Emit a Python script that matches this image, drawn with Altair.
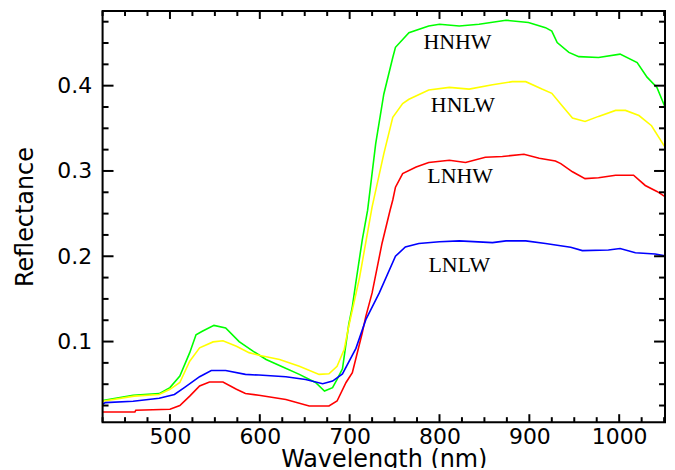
import altair as alt
import pandas as pd

# ---- data ----
hnhw_wl = [425, 459, 488, 500, 511, 522, 529, 536, 549, 562, 577, 592, 607, 625, 644, 662, 672, 681, 686, 692,
           699, 703, 707, 714, 720, 729, 738, 748, 751, 766, 788, 800, 822, 844, 874, 899, 918, 925, 931, 944,
           955, 977, 1001, 1020, 1031, 1042, 1051]
hnhw_r = [0.031, 0.037, 0.039, 0.046, 0.0595, 0.087, 0.108, 0.112, 0.119, 0.116, 0.100, 0.089, 0.079, 0.0705,
          0.0615, 0.052, 0.042, 0.046, 0.0556, 0.068, 0.120, 0.141, 0.170, 0.219, 0.254, 0.332, 0.390, 0.433,
          0.445, 0.462, 0.470, 0.472, 0.470, 0.472, 0.4767, 0.474, 0.468, 0.464, 0.4505, 0.439, 0.434, 0.433,
          0.437, 0.427, 0.410, 0.398, 0.375]

hnlw_wl = [425, 460, 488, 500, 511, 522, 533, 548, 559, 574, 588, 599, 622, 644, 666, 677, 686, 694, 699, 711,
           725, 738, 748, 759, 766, 788, 811, 833, 859, 881, 896, 914, 925, 936, 948, 962, 977, 996, 1007, 1022,
           1036, 1051]
hnlw_r = [0.030, 0.036, 0.038, 0.044, 0.052, 0.077, 0.0926, 0.0996, 0.101, 0.0945, 0.087, 0.084, 0.079, 0.071,
          0.0615, 0.0623, 0.071, 0.091, 0.118, 0.175, 0.258, 0.320, 0.363, 0.379, 0.384, 0.395, 0.398, 0.396,
          0.401, 0.4047, 0.4047, 0.396, 0.391, 0.377, 0.362, 0.358, 0.364, 0.371, 0.371, 0.365, 0.353, 0.328]

lnhw_wl = [425, 461, 462, 500, 511, 522, 533, 544, 559, 574, 584, 599, 629, 655, 677, 686, 696, 703, 714, 718,
           725, 736, 745, 748, 751, 759, 774, 788, 811, 829, 851, 870, 894, 911, 929, 935, 948, 962, 977, 996,
           1016, 1029, 1042, 1051]
lnhw_r = [0.0175, 0.0175, 0.0195, 0.0206, 0.025, 0.036, 0.048, 0.0525, 0.0525, 0.044, 0.039, 0.037, 0.032,
          0.0245, 0.0245, 0.0303, 0.052, 0.0634, 0.110, 0.1295, 0.157, 0.215, 0.254, 0.266, 0.281, 0.297,
          0.3046, 0.310, 0.3125, 0.310, 0.316, 0.317, 0.3195, 0.315, 0.3116, 0.3086, 0.299, 0.291, 0.292,
          0.295, 0.295, 0.283, 0.276, 0.270]

lnlw_wl = [425, 428, 459, 488, 505, 516, 533, 546, 562, 584, 599, 629, 651, 670, 681, 692, 707, 718, 733, 751,
           762, 777, 800, 822, 859, 874, 896, 918, 931, 946, 959, 988, 1001, 1018, 1040, 1051]
lnlw_r = [0.0265, 0.0284, 0.030, 0.0335, 0.038, 0.046, 0.0588, 0.066, 0.066, 0.0615, 0.0607, 0.0588, 0.0556,
          0.0506, 0.0537, 0.062, 0.092, 0.1257, 0.157, 0.200, 0.211, 0.215, 0.217, 0.218, 0.216, 0.218, 0.218,
          0.215, 0.213, 0.2105, 0.2066, 0.2074, 0.209, 0.2042, 0.2027, 0.2007]

series_names = ["HNHW", "HNLW", "LNHW", "LNLW"]
series_colors = ["#00ff00", "#ffff00", "#ff0000", "#0000ff"]

label_text = ["HNHW", "HNLW", "LNHW", "LNLW"]
label_wl = [820, 826, 823, 822]
label_r = [0.443, 0.369, 0.2856, 0.1817]

x_major = [500, 600, 700, 800, 900, 1000]
x_minor = [425, 450, 475, 525, 550, 575, 625, 650, 675, 725, 750, 775, 825, 850, 875, 925, 950, 975, 1025, 1050]
y_major = [0.1, 0.2, 0.3, 0.4]
y_minor = [0.025, 0.05, 0.075, 0.125, 0.15, 0.175, 0.225, 0.25, 0.275, 0.325, 0.35, 0.375, 0.425, 0.45, 0.475]

X_DOMAIN = [425, 1051]
Y_DOMAIN = [0.0055, 0.4875]
W, H = 565, 413

rows = []
for name, wl, rr in [("HNHW", hnhw_wl, hnhw_r), ("HNLW", hnlw_wl, hnlw_r),
                     ("LNHW", lnhw_wl, lnhw_r), ("LNLW", lnlw_wl, lnlw_r)]:
    for a, b in zip(wl, rr):
        rows.append({"series": name, "wl": a, "r": b})
df = pd.DataFrame(rows)

xs = alt.Scale(domain=X_DOMAIN, nice=False, zero=False)
ys = alt.Scale(domain=Y_DOMAIN, nice=False, zero=False)

FONT = "DejaVu Sans"

x_axis = alt.Axis(values=x_major, format="d", ticks=False, tickSize=0, domain=False, grid=False,
                  labelFont=FONT, labelFontSize=22, labelColor="#000", labelPadding=4,
                  titleFont=FONT, titleFontSize=24, titleFontWeight="normal", titleColor="#000",
                  titleBaseline="alphabetic", titleX=282.5, titleY=45, titleAnchor="middle")
y_axis = alt.Axis(values=y_major, format=".1f", ticks=False, tickSize=0, domain=False, grid=False,
                  labelFont=FONT, labelFontSize=22, labelColor="#000", labelPadding=11,
                  titleFont=FONT, titleFontSize=24, titleFontWeight="normal", titleColor="#000",
                  titleAngle=270, titleBaseline="middle", titleAlign="center",
                  titleX=-77, titleY=206.5)


def X(field):
    return alt.X(field, scale=xs, title="Wavelength (nm)", axis=x_axis)


def Y(field):
    return alt.Y(field, scale=ys, title="Reflectance", axis=y_axis)


lines = alt.Chart(df).mark_line(strokeWidth=1.6, clip=True).encode(
    x=X("wl:Q"),
    y=Y("r:Q"),
    color=alt.Color("series:N", scale=alt.Scale(domain=series_names, range=series_colors), legend=None),
)

lab_df = pd.DataFrame({"t": label_text, "wl": label_wl, "r": label_r})
labels = alt.Chart(lab_df).mark_text(font="Liberation Serif", fontSize=22, color="#000",
                                     align="center", baseline="alphabetic").encode(
    x=X("wl:Q"), y=Y("r:Q"), text="t:N",
)

TICK_W = 2


def xticks(vals, length):
    d = pd.DataFrame({"v": vals})
    bottom = alt.Chart(d).mark_rule(color="#000", strokeWidth=TICK_W).encode(
        x=X("v:Q"), y=alt.value(H), y2=alt.value(H - length))
    top = alt.Chart(d).mark_rule(color="#000", strokeWidth=TICK_W).encode(
        x=X("v:Q"), y=alt.value(0), y2=alt.value(length))
    return [bottom, top]


def yticks(vals, length):
    d = pd.DataFrame({"v": vals})
    left = alt.Chart(d).mark_rule(color="#000", strokeWidth=TICK_W).encode(
        y=Y("v:Q"), x=alt.value(0), x2=alt.value(length))
    right = alt.Chart(d).mark_rule(color="#000", strokeWidth=TICK_W).encode(
        y=Y("v:Q"), x=alt.value(W), x2=alt.value(W - length))
    return [left, right]


tick_layers = xticks(x_major, 8) + xticks(x_minor, 5) + yticks(y_major, 11) + yticks(y_minor, 6)

frame = alt.Chart(pd.DataFrame({"k": [0]})).mark_rect(fill=None, stroke="#000", strokeWidth=2).encode(
    x=alt.value(0), x2=alt.value(W), y=alt.value(0), y2=alt.value(H))

chart = alt.layer(lines, labels, *tick_layers, frame).properties(
    width=W, height=H,
    autosize=alt.AutoSizeParams(type="none"),
    padding={"left": 95, "top": 2, "right": 2, "bottom": 45},
).configure_view(stroke=None).configure(background="white")

chart.save("out.html", embed_options={"renderer": "svg", "actions": False})
